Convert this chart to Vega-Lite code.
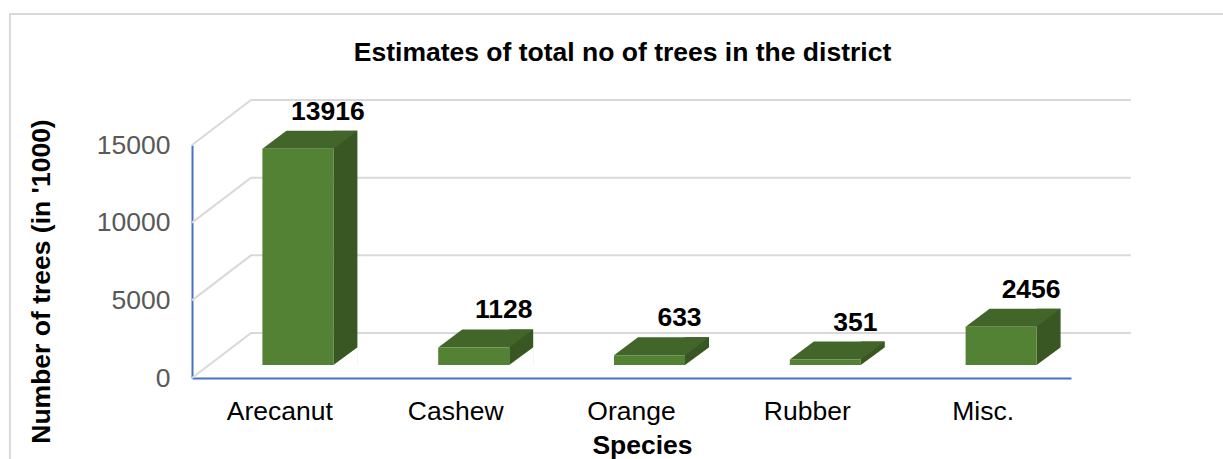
{"$schema":"https://vega.github.io/schema/vega-lite/v6.json","width":879,"height":233,"autosize":"none","padding":{"left":192,"top":145,"right":152,"bottom":81},"background":"white","config":{"view":{"stroke":null},"font":"Liberation Sans"},"title":{"text":"Estimates of total no of trees in the district","font":"Liberation Sans","fontSize":26.5,"fontWeight":"bold","color":"#000000","anchor":"middle","frame":"group","dx":-9,"offset":0,"dy":56},"datasets":{"bars":[{"species":"Arecanut","trees":13916},{"species":"Cashew","trees":1128},{"species":"Orange","trees":633},{"species":"Rubber","trees":351},{"species":"Misc.","trees":2456}],"grid":[{"level":0},{"level":5000},{"level":10000},{"level":15000}]},"layer":[{"data":{"name":"grid"},"mark":{"type":"point","shape":"M-87.9 0 L-28.9 -45 L851 -45","filled":false,"size":4,"color":"#D9D9D9","strokeWidth":2,"opacity":1},"encoding":{"x":{"datum":"Arecanut","type":"nominal","scale":{"domain":["Arecanut","Cashew","Orange","Rubber","Misc."]},"title":"Species","axis":{"domainColor":"#4472C4","domainWidth":2,"ticks":false,"labelAngle":0,"labelAlign":"center","labelBaseline":"top","labelFontSize":26.5,"labelColor":"#000000","labelFont":"Liberation Sans","labelPadding":20,"titleFontSize":26.5,"titleFontWeight":"bold","titleColor":"#000000","titleFont":"Liberation Sans","titlePadding":8,"titleX":450}},"y":{"field":"level","type":"quantitative","title":"Number of trees (in '1000)","scale":{"domain":[0,15000],"nice":false},"axis":{"values":[0,5000,10000,15000],"format":"d","grid":false,"domain":true,"domainColor":"#4472C4","domainWidth":2,"ticks":false,"labelFontSize":26.5,"labelColor":"#595959","labelFont":"Liberation Sans","labelPadding":22,"titleFontSize":26.5,"titleFontWeight":"bold","titleColor":"#000000","titleFont":"Liberation Sans","titleX":-137,"titleY":136}}}},{"data":{"values":[{"species":"Arecanut","level":0}]},"mark":{"type":"point","shape":"M-270 85 L-270 -364 L945 -364","filled":false,"size":4,"color":"#D9D9D9","strokeWidth":2,"opacity":1},"encoding":{"x":{"field":"species","type":"nominal","title":"Species"},"y":{"field":"level","type":"quantitative","title":"Number of trees (in '1000)"}}},{"data":{"name":"bars"},"mark":{"type":"bar","color":"#385723","size":24,"xOffset":65.5,"yOffset":-31,"y2Offset":-13},"encoding":{"x":{"field":"species","type":"nominal","sort":null,"title":"Species"},"y":{"field":"trees","type":"quantitative","title":"Number of trees (in '1000)"},"y2":{"datum":0}}},{"data":{"name":"bars"},"mark":{"type":"point","shape":"M53.5 3 L78 3 L78 -15 Z","filled":true,"size":4,"color":"white","opacity":1,"yOffset":-16},"encoding":{"x":{"field":"species","type":"nominal","sort":null,"title":"Species"},"y":{"datum":0}}},{"data":{"name":"bars"},"mark":{"type":"point","shape":"M-17.5 0 L53.5 0 L77.5 -18 L6.5 -18 Z","filled":true,"size":4,"color":"#42662A","opacity":1,"yOffset":-13},"encoding":{"x":{"field":"species","type":"nominal","sort":null,"title":"Species"},"y":{"field":"trees","type":"quantitative","title":"Number of trees (in '1000)"}}},{"data":{"name":"bars"},"mark":{"type":"bar","color":"#548235","size":71,"xOffset":18,"yOffset":-13,"y2Offset":-13},"encoding":{"x":{"field":"species","type":"nominal","sort":null,"title":"Species"},"y":{"field":"trees","type":"quantitative","title":"Number of trees (in '1000)"},"y2":{"datum":0}}},{"data":{"name":"bars"},"mark":{"type":"text","font":"Liberation Sans","fontSize":26.5,"fontWeight":"bold","color":"#000000","xOffset":48,"yOffset":-50,"baseline":"middle"},"encoding":{"x":{"field":"species","type":"nominal","sort":null,"title":"Species"},"y":{"field":"trees","type":"quantitative","title":"Number of trees (in '1000)"},"text":{"field":"trees","type":"nominal"}}}]}
